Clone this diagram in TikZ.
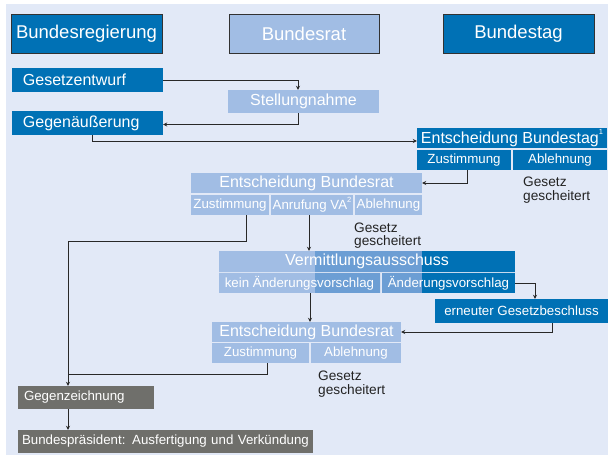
\documentclass[tikz,border=0pt]{standalone}
\usepackage{fontspec}
\setmainfont{Liberation Sans}
\usetikzlibrary{arrows.meta,calc}
\definecolor{bgc}{RGB}{226,233,247}
\definecolor{dblue}{RGB}{0,113,181}
\definecolor{lblue}{RGB}{161,189,228}
\definecolor{mblue}{RGB}{108,158,212}
\definecolor{grayb}{RGB}{111,111,107}
\definecolor{linec}{RGB}{40,40,40}
\definecolor{hdrline}{RGB}{50,50,50}
\definecolor{txtc}{RGB}{35,35,35}
\newcommand{\supnum}[1]{\raisebox{0.55em}{\fontsize{7.5}{8}\selectfont #1}}
\tikzset{
  box/.style={rectangle,inner sep=0pt,text=white,anchor=center},
  hdr/.style={box,draw=hdrline,line width=0.9pt,minimum height=39pt,font=\fontsize{18.5}{20}\selectfont},
  mid/.style={box,font=\fontsize{16}{18}\selectfont},
  ttl/.style={box,minimum height=20pt,font=\fontsize{16}{18}\selectfont},
  sub/.style={box,minimum height=20pt,font=\fontsize{13.3}{15}\selectfont},
  gesch/.style={inner sep=0pt,anchor=north west,align=left,text=txtc,font=\fontsize{13.7}{13.5}\selectfont},
  ln/.style={draw=linec,line width=1pt},
  arr/.style={ln,-{Stealth[length=4pt,width=4pt]}}
}
\begin{document}
\begin{tikzpicture}[x=1pt,y=-1pt]
\useasboundingbox (0,0) rectangle (608,455);
\fill[bgc] (6,4) rectangle (608,455);

% headers
\node[hdr,fill=dblue,minimum width=151pt] (hreg) at (86.5,33.5) {Bundesregierung};
\node[hdr,fill=lblue,minimum width=150pt] (hrat) at (304,33.5) {Bundesrat};
\node[hdr,fill=dblue,minimum width=151pt] (htag) at (518.5,33.5) {Bundestag};

% first stage
\node[mid,fill=dblue,minimum height=24pt,text width=129pt,inner xsep=11pt,align=left] (ge) at (87.5,80) {Gesetzentwurf};
\node[mid,fill=lblue,minimum height=23pt,minimum width=151pt] (st) at (303.5,101.5) {Stellungnahme};
\node[mid,fill=dblue,minimum height=24pt,text width=129pt,inner xsep=11pt,align=left] (gg) at (87.5,123) {Gegenäußerung};

% Bundestag decision
\node[ttl,fill=dblue,minimum width=190pt] (ebt) at (512,138) {Entscheidung Bundestag\supnum{1}};
\node[sub,fill=dblue,minimum width=94pt] (ebtz) at (464,160) {Zustimmung};
\node[sub,fill=dblue,minimum width=94pt] (ebta) at (560,160) {Ablehnung};
\node[gesch] (gs1) at (523,177) {Gesetz\\gescheitert};

% Bundesrat decision
\node[ttl,fill=lblue,minimum width=231pt] (ebr) at (306.5,183) {Entscheidung Bundesrat};
\node[sub,fill=lblue,minimum width=78pt] (ebrz) at (230,205) {Zustimmung};
\node[sub,fill=lblue,minimum width=82pt] (ebrv) at (312,205) {Anrufung VA\supnum{2}};
\node[sub,fill=lblue,minimum width=67pt] (ebra) at (388.5,205) {Ablehnung};
\node[gesch] (gs2) at (354,222.5) {Gesetz\\gescheitert};

% Vermittlungsausschuss
\begin{scope}
\clip (219,251) rectangle (515,272) (219,273) rectangle (380,293) (382,273) rectangle (515,293);
\fill[lblue] (219,251) rectangle (315,293);
\fill[mblue] (315,251) rectangle (422,293);
\fill[dblue] (422,251) rectangle (515,293);
\end{scope}
\node[ttl,minimum width=296pt,minimum height=21pt] (va) at (367,261.5) {Vermittlungsausschuss};
\node[sub,minimum width=161pt] (vak) at (299.5,283) {kein Änderungsvorschlag};
\node[sub,minimum width=133pt] (vaa) at (448.5,283) {Änderungsvorschlag};

\node[sub,fill=dblue,minimum width=173pt,minimum height=24pt] (eg) at (521.5,311) {erneuter Gesetzbeschluss};

% second Bundesrat decision
\node[ttl,fill=lblue,minimum width=189pt] (ebr2) at (306.5,332) {Entscheidung Bundesrat};
\node[sub,fill=lblue,minimum width=97pt] (ebr2z) at (260.5,353) {Zustimmung};
\node[sub,fill=lblue,minimum width=90pt] (ebr2a) at (356,353) {Ablehnung};
\node[gesch] (gs3) at (318,371) {Gesetz\\gescheitert};

% final
\node[sub,fill=grayb,minimum height=23pt,text width=124pt,inner xsep=6pt,align=left] (gz) at (86,397.5) {Gegenzeichnung};
\node[sub,fill=grayb,minimum height=23pt,text width=287pt,inner xsep=4pt,align=left] (bp) at (165.5,441.5) {\mbox{Bundespräsident: Ausfertigung und Verkündung}};

% connectors
\draw[arr] (ge.east) -| ([xshift=-5.5pt]st.north);
\draw[arr] ([xshift=-5.5pt]st.south) |- ([yshift=-1.5pt]gg.east);
\draw[arr] ([xshift=4.5pt]gg.south) |- ([yshift=-3pt]ebt.west);
\draw[arr] ([xshift=3pt]ebtz.south) |- (ebr.east);
\coordinate (c1) at (68,241);
\draw[arr] ([xshift=16pt]ebrz.south) |- (c1) -- ([xshift=-18pt]gz.north);
\coordinate (c2) at (68,374);
\draw[ln] ([xshift=6.5pt]ebr2z.south) |- (c2);
\coordinate (p6) at ([xshift=-3pt]ebrv.south);
\draw[arr] (p6) -- (p6 |- va.north);
\draw[arr] (vaa.east) -| ([xshift=13.5pt]eg.north);
\coordinate (p8) at ([xshift=10.5pt]vak.south);
\draw[arr] (p8) -- (p8 |- ebr2.north);
\draw[arr] ([xshift=30.5pt]eg.south) |- (ebr2.east);
\coordinate (p10) at ([xshift=-18pt]gz.south);
\draw[arr] (p10) -- (p10 |- bp.north);
\end{tikzpicture}
\end{document}
